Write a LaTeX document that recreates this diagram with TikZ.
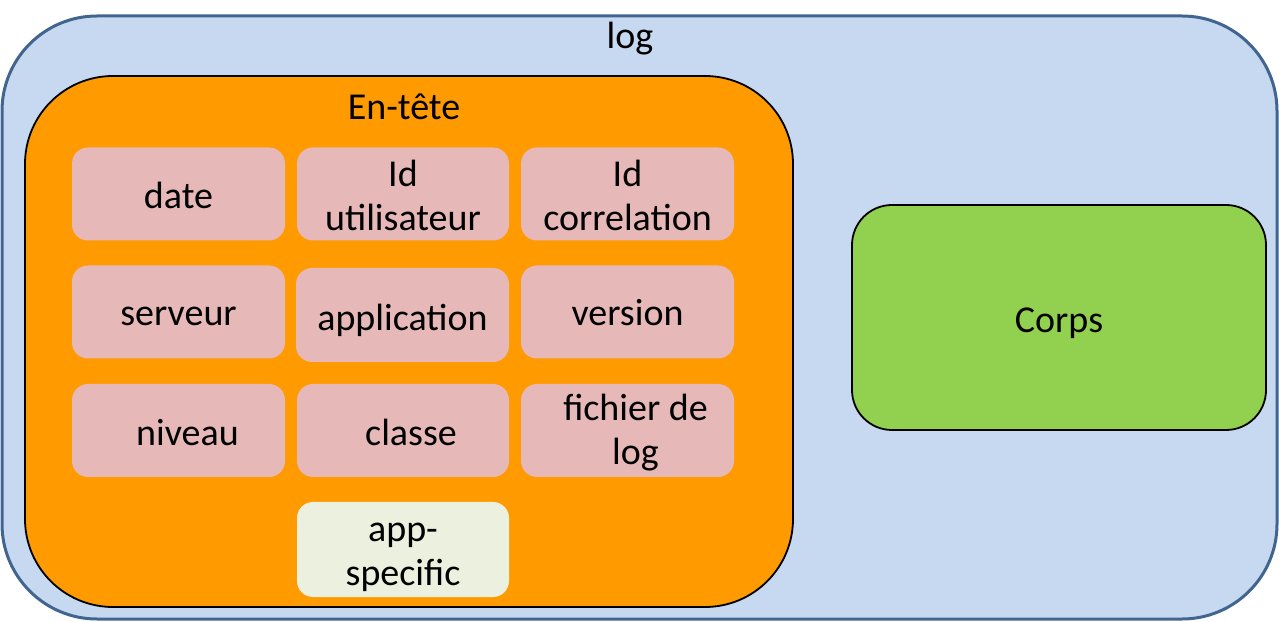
\documentclass[tikz,border=0pt]{standalone}
\usepackage{fontspec}
\setmainfont{Carlito}
\definecolor{outerfill}{HTML}{C6D9F0}
\definecolor{outerline}{HTML}{41658F}
\definecolor{headfill}{HTML}{FF9A00}
\definecolor{fieldfill}{HTML}{E6B8B7}
\definecolor{appfill}{HTML}{EBF1DE}
\definecolor{bodyfill}{HTML}{92D050}
\tikzset{
  txt/.style={font=\fontsize{38}{44}\selectfont, align=center, inner sep=0pt},
  field/.style={fill=fieldfill, rounded corners=16pt, minimum width=213pt, minimum height=93pt, inner sep=0pt},
  appfield/.style={field, fill=appfill},
}
\begin{document}
\begin{tikzpicture}[x=1pt,y=1pt]
\useasboundingbox (0,0) rectangle (1279,621);
% outer log box
\draw[outerline, line width=3pt, fill=outerfill, rounded corners=95pt] (2,2) rectangle (1277,605);
\node[txt] (log) at (630,582) {log};
% header
\draw[black, line width=1.8pt, fill=headfill, rounded corners=88pt] (25,14) rectangle (793,545);
\node[txt] (entete) at (404,514) {En-tête};
% fields
\node[field] (date) at (178.5,427) {};
\node[field, minimum width=212pt] (iduser) at (403,427) {};
\node[field] (idcorr) at (627.5,427) {};
\node[field] (serveur) at (178.5,309) {};
\node[field, minimum height=94pt] (application) at (402.5,306) {};
\node[field] (version) at (627.5,309) {};
\node[field] (niveau) at (178.5,190.5) {};
\node[field, minimum width=212pt] (classe) at (403,190.5) {};
\node[field] (fichier) at (627.5,190.5) {};
\node[appfield, minimum width=212pt, minimum height=95pt] (appspec) at (403,71.5) {};
% field labels
\node[txt] (tdate) at ([yshift=-1pt]date.center) {date};
\node[txt] (tiduser) at ([yshift=-1pt]iduser.center) {Id\\utilisateur};
\node[txt] (tidcorr) at ([yshift=-1pt]idcorr.center) {Id\\correlation};
\node[txt] (tserveur) at ([yshift=-4pt]serveur.center) {serveur};
\node[txt] (tapplication) at ([yshift=-5pt]application.center) {application};
\node[txt] (tversion) at ([yshift=-1pt]version.center) {version};
\node[txt] (tniveau) at ([xshift=9pt,yshift=-2pt]niveau.center) {niveau};
\node[txt] (tclasse) at ([xshift=8pt,yshift=-2pt]classe.center) {classe};
\node[txt] (tfichier) at ([xshift=8pt,yshift=-2pt]fichier.center) {fichier de\\log};
\node[txt] (tappspec) at ([yshift=-8pt]appspec.center) {app-\\specific};
% body
\draw[black, line width=1.8pt, fill=bodyfill, rounded corners=40pt] (852,191) rectangle (1266,416);
\node[txt] (corps) at (1059,298) {Corps};
\end{tikzpicture}
\end{document}
